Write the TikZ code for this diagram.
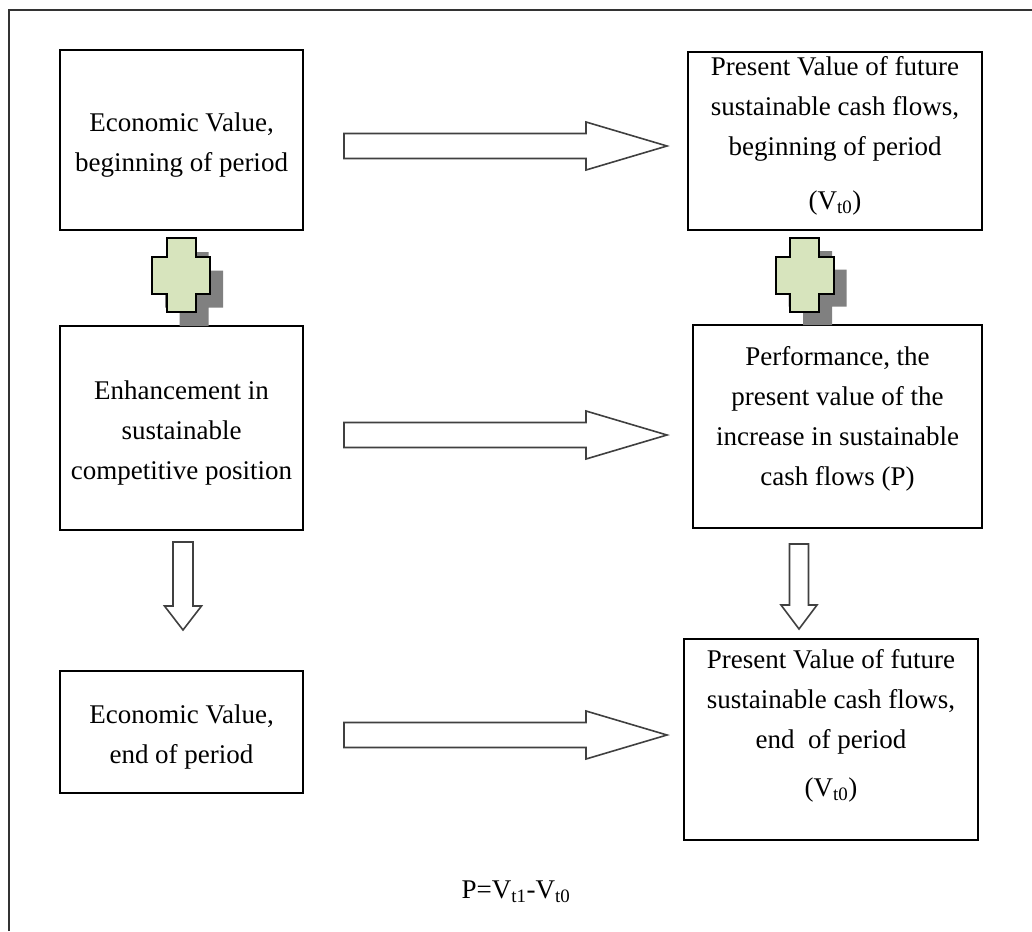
\documentclass[tikz,border=0pt]{standalone}
\usepackage{fontspec}
\setmainfont{Liberation Serif}
\usetikzlibrary{calc}
\definecolor{plusgreen}{HTML}{D7E4BD}
\definecolor{shadowgray}{HTML}{808080}
\definecolor{framegray}{HTML}{333333}

\tikzset{
  box/.style={draw=black, line width=2pt, align=center, inner sep=0pt,
    font=\fontsize{27}{40}\selectfont},
  blockarr/.style={draw=black!75, line width=1.6pt, fill=white, line join=miter},
  plusshape/.style={draw=black, line width=2pt, fill=plusgreen, line join=miter},
}

% hollow block arrow: from, to, half shaft, half head, head length
\newcommand{\blockarrow}[5]{%
  \path ($(#2)!#5!(#1)$) coordinate (bah);
  \draw[blockarr] ($(#1)!#3!90:(#2)$) -- ($(bah)!#3!90:(#2)$) -- ($(bah)!#4!90:(#2)$) -- (#2)
    -- ($(bah)!#4!-90:(#2)$) -- ($(bah)!#3!-90:(#2)$) -- ($(#1)!#3!-90:(#2)$) -- cycle;
}
% extra depth on the last line lifts the text, extra height on the first drops it
\newcommand{\lift}[1]{\rule[-#1]{0pt}{#1}}
\newcommand{\drop}{\rule{0pt}{29pt}}

\begin{document}
\begin{tikzpicture}[x=1pt, y=-1pt]
  \useasboundingbox (0,0) rectangle (1032,931);
  \def\crosspath{(-14.5,-37) -- (14.5,-37) -- (14.5,-18.5) -- (29,-18.5) -- (29,18.5)
    -- (14.5,18.5) -- (14.5,37) -- (-14.5,37) -- (-14.5,18.5) -- (-29,18.5)
    -- (-29,-18.5) -- (-14.5,-18.5) -- cycle}

  % frame
  \draw[framegray, line width=2pt] (9,931) -- (9,10) -- (1032,10);

  % left column
  \node[box, minimum width=243, minimum height=180] (ev0) at (181.5,140)
    {\drop Economic Value,\\beginning of period};
  \node[box, minimum width=243, minimum height=204] (enh) at (181.5,428)
    {\drop Enhancement in\\sustainable\\competitive position};
  \node[box, minimum width=243, minimum height=122] (ev1) at (181.5,732)
    {\drop Economic Value,\\end of period};

  % right column
  \node[box, minimum width=294, minimum height=178] (pv0) at (835,141)
    {Present Value of future\\sustainable cash flows,\\beginning of period\\[14pt](V\textsubscript{t0})\lift{17pt}};
  \node[box, minimum width=289, minimum height=203] (perf) at (837.5,426.5)
    {Performance, the\\present value of the\\increase in sustainable\\cash flows (P)\lift{22pt}};
  \node[box, minimum width=294, minimum height=201] (pv1) at (831,739.5)
    {Present Value of future\\sustainable cash flows,\\end\ \ of period\\[8pt](V\textsubscript{t0})\lift{34pt}};

  \node[font=\fontsize{27}{40}\selectfont] (formula) at (516,892)
    {P=V\textsubscript{t1}-V\textsubscript{t0}};

  % plus signs
  \coordinate (plus0) at (181,275);
  \coordinate (plus1) at (804.5,275);
  \begin{scope}[shift={(plus0)}]
    \fill[shadowgray, shift={(13,14)}] \crosspath;
    \draw[plusshape] \crosspath;
  \end{scope}
  \begin{scope}[shift={(plus1)}]
    \fill[shadowgray, shift={(13,13)}] \crosspath;
    \draw[plusshape] \crosspath;
  \end{scope}

  % block arrows
  \coordinate (r0s) at ($(ev0.east)+(40,6)$);
  \coordinate (r0e) at ($(pv0.west)+(-20,5)$);
  \coordinate (r1s) at ($(enh.east)+(40,7)$);
  \coordinate (r1e) at ($(perf.west)+(-25,8.5)$);
  \coordinate (r2s) at ($(ev1.east)+(40,3)$);
  \coordinate (r2e) at ($(pv1.west)+(-16,-4.5)$);
  \coordinate (d0s) at ($(enh.south)+(1.5,11)$);
  \coordinate (d0e) at ($(ev1.north)+(1.5,-40)$);
  \coordinate (d1s) at ($(perf.south)+(-38.5,15)$);
  \coordinate (d1e) at ($(pv1.north)+(-32,-9)$);

  \blockarrow{r0s}{r0e}{12.5pt}{24pt}{81pt}
  \blockarrow{r1s}{r1e}{12.5pt}{24pt}{81pt}
  \blockarrow{r2s}{r2e}{12.5pt}{24pt}{81pt}
  \blockarrow{d0s}{d0e}{10pt}{18.5pt}{24pt}
  \blockarrow{d1s}{d1e}{9.5pt}{18pt}{24pt}
\end{tikzpicture}
\end{document}
